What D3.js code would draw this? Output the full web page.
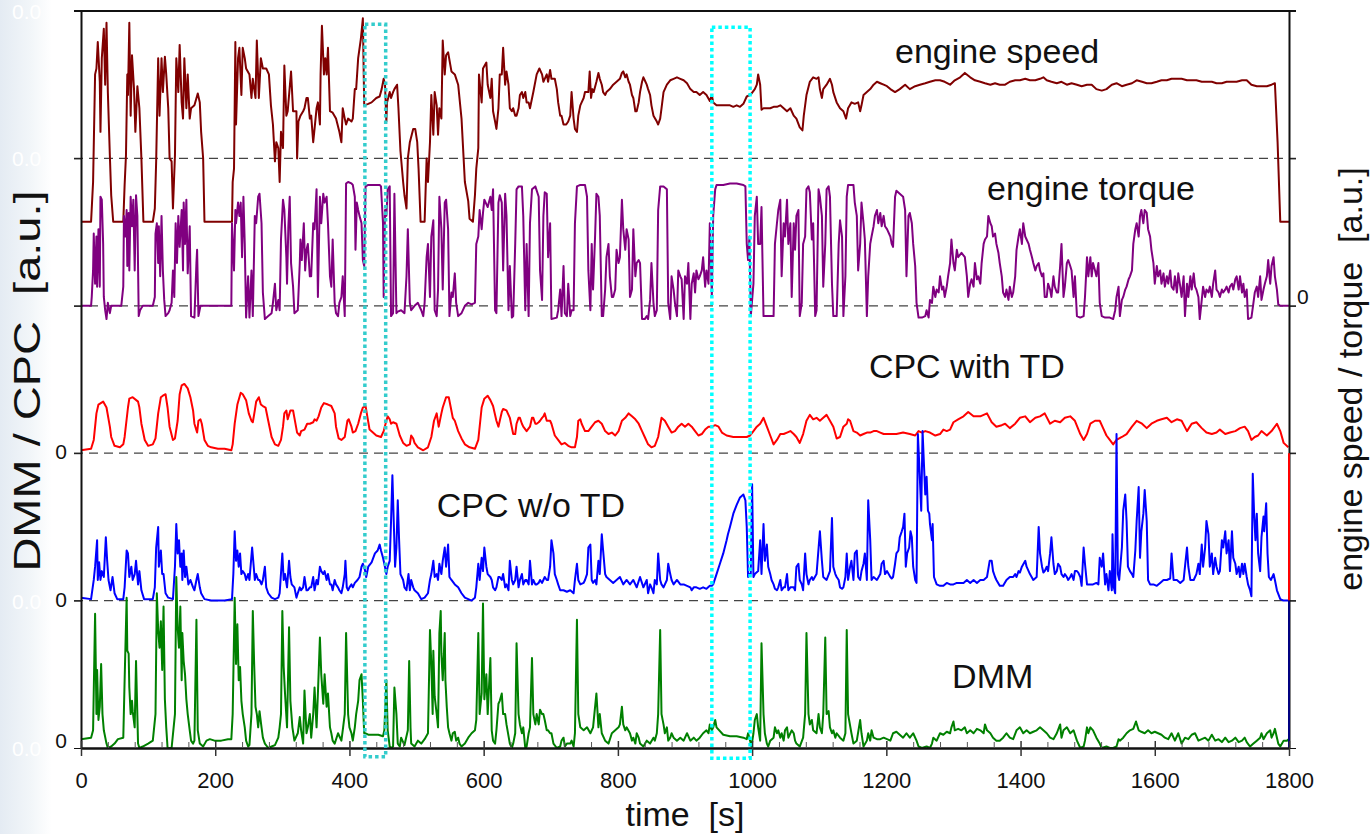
<!DOCTYPE html>
<html>
<head>
<meta charset="utf-8">
<script src="https://cdn.jsdelivr.net/npm/d3@7"></script>
<style>
  body { margin: 0; background: #fff; }
  svg { display: block; font-family: "Liberation Sans", Arial, sans-serif; }
</style>
</head>
<body>
<div id="chart"></div>
<script>
// time axis (s)
const timeTicks = [0, 200, 400, 600, 800, 1000, 1200, 1400, 1600, 1800];

// each series: [time s, value a.u.], 100 a.u. = one band of the plot
const speedData = [[0,0],[15,0],[18,27],[21,100],[23,104],[25,122],[28,95],[29,61],[31,111],[34,131],[36,93],[38,135],[40,88],[43,45],[45,18],[48,0],[63,0],
[65,25],[67,45],[69,100],[70,86],[72,135],[74,72],[76,113],[79,90],[81,61],[84,92],[87,77],[90,43],[93,0],[107,0],
[110,9],[112,41],[115,111],[117,72],[120,111],[122,88],[125,112],[127,100],[130,77],[132,43],[135,41],[137,9],[140,45],[142,111],[145,88],[147,120],[150,81],[152,70],[154,111],[157,77],[159,100],[162,70],[164,77],[169,79],[174,87],[177,81],[179,61],[182,43],[184,0],[225,0],
[226,27],[228,36],[230,122],[231,66],[234,111],[236,118],[239,86],[241,118],[244,111],[246,104],[251,100],[254,84],[256,97],[260,84],[262,123],[265,84],[268,111],[271,104],[276,104],[280,100],[283,79],[286,66],[289,41],[291,54],[294,50],[296,27],[298,61],[301,50],[303,106],[306,72],[308,75],[313,102],[316,75],[321,75],[322,43],[324,68],[327,72],[331,75],[333,77],[336,84],[338,84],[341,70],[343,72],[346,54],[348,63],[351,77],[353,81],[356,66],[357,100],[359,133],[362,100],[364,111],[366,100],[368,118],[371,75],[375,74],[380,70],[385,61],[388,54],[390,77],[393,70],[395,66],[398,70],[403,68],[405,70],[408,90],[410,90],[413,111],[417,124],[420,138],
[422,79],[428,80],[433,81],[440,84],[445,85],[448,90],[451,97],[453,93],[455,68],[456,81],[460,88],[462,84],[465,88],[467,90],[471,93],[473,77],[476,48],[480,27],[482,18],[485,9],[487,43],[490,54],[495,63],[498,63],[501,54],[503,36],[506,0],[512,0],[515,43],[517,27],[520,54],[522,86],[525,59],[527,88],[530,79],[532,59],[534,77],[537,70],[539,123],[542,100],[544,113],[547,115],[552,102],[557,100],[562,93],[567,70],[572,27],[577,14],[579,2],[584,0],[587,18],[589,36],[592,50],[593,100],[597,81],[599,104],[604,108],[606,93],
[610,84],[612,97],[614,75],[617,68],[619,63],[622,77],[624,100],[627,100],[629,118],[632,93],[634,102],[637,93],[639,77],[642,75],[644,77],[647,72],[649,72],[652,77],[654,86],[657,88],[659,84],[662,88],[664,81],[667,81],[669,77],[674,88],[679,100],[683,104],[687,100],[689,95],[691,97],[694,100],[696,95],[699,103],[701,97],[706,97],[709,90],[711,81],[714,72],[716,72],[719,66],[723,66],[726,68],[729,72],[731,88],[734,70],[736,63],[739,61],[741,72],[744,79],[746,81],[749,84],[751,88],[754,88],[756,88],[758,102],[760,84],[762,90],[764,88],[768,95],[771,101],[773,97],[776,93],[778,88],[781,86],[783,88],[788,90],[793,93],[798,95],[803,97],[806,101],[808,102],[811,98],[813,100],[816,95],[818,93],[821,86],[823,84],[826,75],[828,75],[831,81],[833,88],[836,95],[838,98],[840,96],[843,93],[845,90],[848,86],[850,79],[853,72],[858,68],[860,66],[863,70],[865,77],[868,88],[873,93],[878,96],[883,97],[888,98],[893,97],[898,96],[903,94],[908,90],[913,88],[917,88],[922,86],[927,88],[932,86],[937,82],[940,86],[942,81],[947,79],[957,79],[967,79],[972,78],[977,79],[982,78],[987,80],[992,85],[997,86],[999,87],[1004,90],[1007,93],[1009,100],[1012,93],[1014,76],[1017,77],[1022,77],[1027,77],[1032,78],[1037,78],[1042,79],[1047,77],[1052,75],[1057,77],[1062,72],[1066,70],[1071,64],[1075,62],[1077,72],[1079,79],[1081,86],[1086,95],[1091,98],[1096,97],[1099,98],[1101,90],[1104,84],[1106,90],[1111,93],[1116,97],[1119,93],[1121,88],[1126,81],[1131,77],[1136,75],[1140,70],[1143,77],[1148,81],[1153,80],[1158,81],[1161,75],[1163,79],[1166,86],[1171,88],[1176,90],[1181,93],[1186,95],[1191,94],[1196,93],[1201,92],[1206,90],
[1213,88],[1220,90],[1228,93],[1235,90],[1243,92],[1250,93],[1258,94],[1265,95],[1273,96],[1280,96],[1287,95],[1295,93],[1302,96],[1310,98],[1317,101],[1325,98],[1332,96],[1340,95],[1347,94],[1355,93],[1362,94],[1369,93],[1377,93],[1384,95],[1392,96],[1399,96],[1407,97],[1414,96],[1422,96],[1429,97],[1434,98],[1439,96],[1446,95],[1454,94],[1461,95],[1469,93],[1476,94],[1484,93],[1491,92],[1499,93],[1506,93],[1513,90],[1521,89],[1528,90],[1536,93],[1543,94],[1551,92],[1558,93],[1566,94],[1573,96],[1581,95],[1588,94],[1595,94],[1603,95],[1610,96],[1618,96],[1625,97],[1633,97],[1640,97],[1648,96],[1655,96],[1662,96],[1670,95],[1677,95],[1685,95],[1692,94],[1700,94],[1707,95],[1715,95],[1722,95],[1730,96],[1737,96],[1744,93],[1752,92],[1759,92],[1767,92],[1774,93],[1779,94],[1783,54],[1787,0],[1800,0]];

const torqueData = [[0,0],[15,0],[16,6],[18,24],[19,49],[21,15],[23,47],[24,13],[26,52],[28,13],[29,74],[31,72],[33,42],[34,6],[36,-3],[38,-9],[40,2],[43,-5],[45,0],[60,0],[63,13],[64,61],[66,47],[68,65],[69,27],[71,63],[72,24],[74,74],[76,54],[78,72],[80,24],[82,75],[84,61],[86,-7],[88,-3],[92,0],[107,0],[110,6],[111,49],[113,56],[115,29],[116,54],[118,20],[120,61],[122,24],[124,4],[126,-7],[130,-5],[132,-3],[135,2],[137,24],[139,6],[141,56],[143,29],[145,61],[147,40],[150,65],[152,24],[153,70],[155,42],[157,72],[159,22],[162,54],[164,-7],[169,-8],[172,29],[173,38],[175,-7],[178,0],[224,0],[225,56],[228,24],[230,65],[231,56],[234,70],[236,61],[238,70],[240,33],[242,74],[244,42],[246,-8],[249,20],[251,-8],[254,24],[256,-7],[259,61],[261,56],[264,74],[266,76],[269,56],[271,9],[274,-9],[279,-7],[284,-5],[286,2],[289,15],[291,-3],[294,4],[296,-3],[298,45],[301,72],[303,65],[306,33],[307,15],[309,54],[311,74],[313,29],[316,13],[318,-5],[323,-3],[326,29],[327,45],[329,31],[332,56],[334,24],[336,38],[338,42],[341,20],[343,20],[346,56],[348,52],[351,79],[353,6],[356,74],[358,56],[361,76],[363,70],[366,74],[368,56],[371,20],[373,13],[375,45],[378,2],[380,-5],[383,-7],[385,2],[388,6],[390,20],[393,-7],[395,83],[398,84],[403,83],[405,82],[408,74],[409,38],[411,70],[413,65],[415,61],[418,56],[420,31],[422,27],[424,81],[428,82],[433,82],[438,82],[445,82],[447,81],[450,56],[451,6],[453,65],[455,61],[457,79],[460,81],[462,-7],[465,-5],[467,76],[470,-5],[472,-4],[477,-3],[482,-5],[485,20],[487,52],[490,2],[492,-3],[497,0],[502,2],[507,-3],[510,-7],[512,2],[515,33],[517,42],[520,6],[522,47],[525,58],[527,-3],[530,-7],[532,11],[534,74],[537,52],[539,11],[542,70],[544,72],[547,52],[549,-7],[552,9],[554,6],[557,22],[559,2],[562,-7],[567,-5],[572,0],[577,2],[582,1],[587,2],[589,42],[592,47],[594,65],[597,52],[599,63],[601,72],[606,67],
[610,74],[612,65],[614,79],[617,-3],[619,-5],[622,70],[624,75],[627,70],[629,24],[632,76],[634,61],[637,-3],[639,27],[642,-8],[644,-7],[647,42],[649,79],[652,81],[657,81],[659,61],[662,-3],[664,42],[667,-7],[669,56],[672,79],[677,81],[682,74],[684,24],[687,4],[689,61],[691,77],[694,76],[696,33],[699,56],[701,-9],[709,-8],[711,-3],[714,11],[716,-7],[719,27],[721,-5],[724,-7],[726,15],[729,-7],[731,-3],[734,-3],[736,56],[739,81],[744,82],[751,82],[754,74],[756,24],[759,-3],[761,42],[763,11],[766,47],[768,76],[771,74],[773,61],[776,-7],[778,-7],[781,11],[783,33],[786,42],[788,20],[791,6],[793,6],[796,11],[798,38],[801,29],[803,33],[806,72],[808,52],[811,38],[813,52],[816,45],[818,6],[821,11],[823,52],[826,20],[828,29],[831,31],[833,29],[836,-9],[840,-9],[843,-7],[845,-9],[848,4],[850,29],[853,2],[855,-7],[858,-3],[860,65],[863,81],[868,81],[873,79],[875,2],[878,-9],[880,20],[883,11],[885,2],[888,-7],[890,24],[893,20],[895,18],[898,-9],[900,20],[903,15],[905,29],[908,-9],[910,15],[913,22],[915,9],[917,24],[920,18],[922,20],[925,24],[927,33],[930,13],[932,24],[935,15],[937,56],[940,6],[942,61],[945,79],[947,82],[957,82],[967,83],[977,83],[987,82],[990,81],[992,42],[994,31],[996,47],[998,-7],[1002,15],[1004,61],[1007,74],[1009,42],[1012,42],[1014,67],[1017,-7],[1027,-7],[1032,-7],[1034,42],[1037,56],[1039,65],[1042,72],[1044,20],[1047,56],[1049,47],[1052,72],[1054,42],[1057,56],[1059,6],[1062,56],[1064,38],[1066,61],[1069,65],[1071,-7],[1074,2],[1076,42],[1079,47],[1081,79],[1084,81],[1086,77],[1089,45],[1091,56],[1094,-7],[1096,-3],[1099,79],[1101,74],[1104,61],[1106,13],[1109,42],[1111,79],[1114,81],[1116,74],[1119,15],[1121,-7],[1126,-7],[1129,42],[1131,58],[1134,47],[1136,-7],[1139,20],[1141,74],[1143,82],[1151,82],[1153,70],[1156,61],[1158,24],[1161,42],[1163,70],[1166,56],[1168,45],[1171,-7],[1173,20],[1176,42],[1178,47],[1181,54],[1183,61],[1186,65],[1188,56],[1191,63],[1193,54],[1196,61],[1198,54],[1201,52],[1206,47],
[1208,42],[1210,40],[1213,74],[1215,78],[1220,76],[1225,74],[1228,65],[1230,20],[1233,61],[1235,63],[1238,56],[1240,42],[1243,27],[1245,2],[1248,-8],[1253,-8],[1258,-7],[1260,-3],[1263,-8],[1265,4],[1268,2],[1270,13],[1273,6],[1275,11],[1278,9],[1280,20],[1283,11],[1285,13],[1287,6],[1290,13],[1292,20],[1295,29],[1297,45],[1300,29],[1302,24],[1305,38],[1307,33],[1312,36],[1317,33],[1320,20],[1322,6],[1325,15],[1327,18],[1330,13],[1332,29],[1335,18],[1337,20],[1340,15],[1342,29],[1345,42],[1347,45],[1350,47],[1352,61],[1355,56],[1357,54],[1359,47],[1362,49],[1364,42],[1367,36],[1369,29],[1372,20],[1374,9],[1377,6],[1379,11],[1382,4],[1384,13],[1387,6],[1389,9],[1392,20],[1394,38],[1397,47],[1399,52],[1402,42],[1404,56],[1407,47],[1409,45],[1412,42],[1414,38],[1417,33],[1419,29],[1422,24],[1424,27],[1427,29],[1429,24],[1432,20],[1434,22],[1436,6],[1439,6],[1441,15],[1444,11],[1446,6],[1449,20],[1451,13],[1454,9],[1456,9],[1459,27],[1461,42],[1464,6],[1466,13],[1469,29],[1471,31],[1474,27],[1476,24],[1479,6],[1481,20],[1484,-7],[1489,-8],[1494,-7],[1496,6],[1499,33],[1501,20],[1504,33],[1506,20],[1508,29],[1511,24],[1513,20],[1516,29],[1518,2],[1521,-7],[1526,-8],[1533,-8],[1538,-9],[1541,-3],[1543,6],[1546,13],[1548,-7],[1551,4],[1553,6],[1556,11],[1558,13],[1561,18],[1563,20],[1566,24],[1568,42],[1571,52],[1573,56],[1576,47],[1578,61],[1580,65],[1583,56],[1585,65],[1588,63],[1590,52],[1593,47],[1595,38],[1598,29],[1600,15],[1603,27],[1605,20],[1608,24],[1610,15],[1613,22],[1615,13],[1618,20],[1620,15],[1623,24],[1625,13],[1628,11],[1630,20],[1633,9],[1635,22],[1638,13],[1640,6],[1643,20],[1645,-7],[1648,15],[1650,6],[1653,20],[1655,11],[1658,22],[1660,13],[1662,11],[1665,6],[1667,-9],[1670,4],[1672,13],[1675,6],[1677,11],[1680,9],[1682,13],[1685,6],[1687,15],[1690,24],[1692,11],[1695,9],[1697,6],[1700,11],[1702,9],[1705,11],[1707,13],[1710,9],[1712,13],[1715,15],[1717,11],[1720,18],[1722,20],[1725,11],[1727,20],[1730,9],[1732,15],[1734,6],[1737,11],[1739,-9],[1744,-8],[1747,2],[1749,9],[1752,13],[1754,6],[1757,20],[1759,4],[1762,11],[1764,15],[1767,20],[1769,31],[1772,15],[1774,27],[1777,33],[1779,20],[1782,11],[1784,1],[1787,0],[1800,0]];

const cpcTdData = [[0,2],[15,3],[19,9],[23,27],[26,33],[33,35],[38,31],[43,18],[45,11],[50,5],[58,4],[63,6],[65,11],[70,31],[72,37],[77,38],[85,35],[87,31],[90,20],[95,9],[100,5],[107,6],[111,10],[115,27],[119,38],[122,39],[126,40],[129,31],[132,18],[137,9],[140,10],[144,22],[147,40],[150,46],[154,47],[159,44],[163,38],[167,29],[169,20],[173,14],[175,22],[178,23],[180,20],[184,9],[189,5],[194,4],[204,3],[214,3],[224,2],[226,6],[229,20],[233,33],[238,41],[241,40],[246,36],[250,27],[254,22],[256,21],[259,29],[261,35],[265,38],[268,33],[271,32],[275,31],[279,22],[284,11],[289,6],[294,5],[298,9],[301,18],[303,27],[306,29],[308,23],[312,29],[316,29],[318,24],[322,14],[326,12],[328,15],[333,16],[337,20],[341,20],[346,21],[348,23],[351,22],[354,25],[358,31],[362,34],[368,33],[373,32],[378,27],[380,18],[384,10],[388,9],[393,11],[397,22],[399,23],[403,18],[405,14],[409,15],[413,20],[417,27],[420,31],[424,32],[427,24],[430,16],[435,14],[440,12],[447,11],[451,15],[455,22],[457,25],[460,23],[462,20],[465,21],[470,20],[475,12],[480,7],[485,5],[490,6],[492,12],[495,10],[497,7],[502,4],[510,2],[517,4],[522,11],[526,22],[530,27],[533,18],[537,27],[539,31],[544,38],[548,38],[551,31],[554,24],[557,22],[562,15],[567,10],[572,6],[579,4],[587,3],[592,9],[597,31],[601,37],[606,39],
[610,36],[614,32],[619,22],[622,18],[624,22],[627,28],[629,30],[634,29],[639,24],[644,13],[647,13],[649,20],[652,24],[654,24],[657,20],[659,18],[664,15],[669,18],[672,24],[674,24],[677,20],[679,20],[682,21],[684,22],[687,24],[689,25],[691,27],[694,22],[699,22],[701,20],[706,12],[711,9],[716,6],[721,7],[726,5],[731,4],[736,4],[739,11],[741,22],[744,23],[746,20],[751,15],[756,15],[761,18],[766,21],[771,22],[776,20],[781,15],[786,13],[791,14],[796,12],[801,15],[806,22],[811,24],[816,27],[821,25],[826,23],[831,20],[836,15],[840,11],[845,6],[850,4],[855,5],[860,11],[865,24],[870,22],[875,18],[880,14],[885,15],[890,18],[895,20],[900,18],[905,20],[910,18],[915,15],[920,12],[925,13],[930,16],[935,18],[940,18],[945,19],[950,18],[955,14],[962,12],[972,11],[982,11],[992,11],[997,12],[1002,15],[1007,18],[1012,20],[1017,24],[1022,18],[1027,12],[1032,6],[1037,9],[1042,13],[1047,13],[1052,14],[1057,15],[1062,13],[1066,11],[1071,7],[1076,13],[1081,22],[1086,26],[1091,23],[1096,24],[1101,22],[1106,24],[1111,26],[1116,22],[1121,18],[1126,10],[1131,11],[1136,18],[1141,20],[1143,23],[1146,22],[1151,15],[1156,14],[1161,12],[1166,13],[1171,14],[1176,14],[1181,15],[1186,15],[1191,14],[1196,13],[1206,13],
[1215,13],[1225,14],[1235,13],[1243,12],[1248,15],[1253,14],[1258,15],[1265,14],[1273,12],[1280,13],[1285,16],[1290,15],[1295,16],[1300,21],[1307,23],[1315,25],[1322,28],[1330,25],[1340,25],[1350,27],[1357,21],[1364,18],[1372,19],[1377,20],[1384,17],[1392,20],[1399,24],[1407,25],[1414,21],[1422,24],[1429,25],[1436,27],[1444,20],[1451,22],[1459,21],[1466,24],[1474,25],[1481,22],[1489,13],[1494,9],[1499,13],[1504,20],[1511,22],[1518,22],[1523,17],[1528,12],[1533,9],[1538,6],[1543,9],[1551,11],[1558,13],[1566,18],[1573,22],[1581,20],[1588,17],[1595,20],[1603,22],[1610,23],[1618,24],[1625,21],[1633,23],[1640,22],[1648,15],[1655,20],[1662,21],[1670,17],[1677,14],[1685,13],[1692,14],[1697,16],[1705,13],[1712,14],[1720,15],[1727,17],[1734,18],[1739,15],[1744,9],[1749,11],[1754,12],[1759,15],[1767,12],[1774,15],[1782,20],[1787,15],[1792,7],[1799,4]];

const cpcNoTdData = [[0,2],[15,1],[19,14],[21,23],[24,41],[25,14],[27,26],[29,14],[31,20],[34,16],[37,43],[39,27],[41,14],[44,7],[47,16],[50,5],[54,1],[63,1],[65,9],[68,34],[70,32],[72,16],[75,23],[77,14],[80,18],[82,27],[85,11],[87,20],[90,7],[94,1],[107,1],[110,9],[112,36],[115,50],[116,23],[119,34],[121,18],[123,18],[126,5],[130,2],[137,1],[140,23],[142,52],[144,32],[146,41],[148,23],[150,32],[151,14],[153,34],[155,16],[157,23],[160,11],[163,14],[167,9],[169,7],[172,14],[174,18],[177,9],[179,5],[184,1],[194,0],[214,0],[225,1],[227,18],[229,47],[231,27],[233,34],[235,23],[237,32],[239,18],[241,20],[244,18],[246,14],[249,18],[251,14],[255,36],[257,25],[259,14],[261,18],[264,14],[266,14],[269,11],[271,14],[274,23],[276,9],[279,5],[284,2],[289,1],[294,2],[296,5],[300,32],[302,14],[304,18],[307,9],[310,27],[312,16],[314,11],[318,9],[321,2],[323,5],[326,9],[328,7],[331,9],[333,16],[336,7],[338,7],[341,9],[343,9],[346,16],[348,7],[351,14],[353,11],[356,23],[358,20],[361,18],[363,20],[366,14],[368,18],[371,11],[373,11],[375,7],[378,14],[380,11],[383,9],[385,7],[388,5],[390,9],[393,18],[394,27],[396,9],[398,7],[400,9],[403,11],[405,9],[408,12],[412,14],[415,16],[418,23],[420,25],[423,21],[425,16],[428,23],[433,26],[438,32],[442,34],[445,38],[447,34],[450,29],[452,25],[455,18],[457,23],[460,27],[462,54],[464,85],[466,54],[468,23],[470,36],[472,68],[474,41],[476,18],[480,14],[482,9],[485,7],[486,11],[488,18],[490,7],[492,14],[495,9],[497,7],[502,5],[507,1],[512,2],[517,5],[520,14],[522,18],[525,27],[527,16],[530,18],[532,14],[534,25],[537,18],[539,27],[542,36],[544,23],[547,38],[549,16],[552,14],[557,11],[562,9],[567,5],[572,2],[577,1],[582,0],[587,2],[589,9],[592,25],[594,14],[597,29],[599,20],[601,36],[604,23],[606,18],
[610,16],[612,14],[614,9],[617,7],[619,9],[622,16],[624,16],[627,14],[629,18],[632,9],[634,11],[637,7],[639,27],[642,14],[644,11],[647,14],[649,23],[652,9],[654,14],[657,18],[659,11],[662,14],[664,14],[667,11],[669,27],[672,11],[674,14],[677,11],[679,11],[682,12],[684,14],[687,12],[689,14],[691,16],[694,14],[696,14],[699,23],[701,41],[704,32],[706,18],[709,14],[711,11],[714,7],[719,7],[724,6],[729,7],[734,5],[736,14],[739,25],[741,14],[744,11],[749,12],[751,14],[754,18],[756,36],[759,38],[761,14],[763,12],[766,14],[768,11],[771,27],[773,18],[776,45],[778,34],[781,18],[783,16],[788,14],[793,12],[798,14],[803,16],[808,11],[813,14],[818,11],[823,14],[828,9],[833,16],[838,9],[843,14],[845,5],[848,11],[850,9],[853,5],[855,14],[858,11],[860,32],[863,14],[865,11],[868,9],[873,14],[875,25],[878,18],[880,14],[883,11],[888,14],[893,11],[898,11],[903,10],[908,9],[910,7],[913,9],[917,9],[922,8],[927,9],[932,8],[937,10],[940,10],[942,11],[947,18],[952,25],[957,32],[962,41],[964,45],[967,50],[972,59],[977,65],[982,70],[987,72],[990,68],[992,50],[994,16],[996,18],[998,18],[1000,79],[1002,16],[1004,18],[1009,20],[1012,41],[1014,18],[1017,52],[1019,27],[1022,38],[1024,23],[1027,18],[1029,14],[1032,11],[1034,8],[1037,7],[1039,9],[1042,14],[1044,7],[1047,9],[1049,9],[1052,18],[1054,7],[1057,9],[1062,9],[1064,7],[1066,23],[1069,25],[1071,14],[1074,11],[1076,7],[1079,32],[1081,18],[1084,11],[1086,14],[1089,16],[1091,14],[1096,18],[1101,47],[1104,27],[1106,16],[1111,14],[1116,20],[1119,56],[1121,23],[1124,18],[1126,16],[1129,14],[1131,9],[1134,8],[1136,9],[1139,16],[1141,32],[1143,14],[1146,23],[1148,27],[1151,14],[1153,32],[1156,34],[1158,16],[1161,14],[1163,20],[1166,25],[1168,32],[1171,14],[1173,68],[1176,41],[1178,14],[1181,16],[1186,14],[1191,18],[1193,25],[1196,27],[1198,18],[1201,20],[1206,16],
[1208,15],[1210,16],[1213,25],[1215,32],[1218,34],[1220,43],[1223,47],[1225,50],[1227,59],[1229,23],[1231,32],[1234,36],[1236,47],[1238,43],[1240,23],[1243,14],[1245,12],[1247,113],[1249,93],[1252,61],[1254,115],[1256,93],[1258,72],[1260,84],[1262,61],[1264,59],[1265,52],[1268,41],[1269,52],[1271,16],[1275,11],[1280,10],[1285,10],[1290,12],[1295,11],[1300,11],[1305,12],[1310,12],[1315,12],[1320,14],[1325,12],[1330,14],[1335,12],[1340,14],[1345,14],[1350,16],[1354,27],[1357,27],[1359,20],[1362,16],[1364,14],[1369,10],[1374,10],[1379,14],[1384,16],[1389,16],[1392,18],[1394,16],[1397,20],[1399,19],[1402,23],[1407,27],[1409,23],[1414,18],[1419,14],[1424,16],[1427,50],[1429,32],[1432,23],[1434,19],[1436,20],[1439,23],[1441,20],[1444,32],[1446,43],[1449,25],[1451,18],[1454,20],[1456,25],[1459,23],[1461,18],[1464,16],[1466,18],[1469,16],[1471,14],[1474,16],[1476,18],[1479,14],[1481,20],[1484,20],[1486,19],[1489,16],[1491,10],[1494,36],[1496,25],[1499,11],[1504,11],[1508,11],[1513,12],[1516,11],[1518,29],[1521,23],[1523,32],[1526,11],[1528,18],[1531,7],[1533,20],[1536,7],[1537,45],[1539,9],[1541,5],[1543,113],[1545,18],[1547,14],[1551,36],[1553,61],[1556,72],[1558,54],[1560,23],[1563,20],[1566,18],[1568,16],[1571,34],[1573,54],[1576,77],[1578,29],[1580,47],[1583,59],[1585,75],[1588,54],[1590,14],[1593,11],[1598,11],[1603,10],[1608,12],[1613,14],[1618,14],[1623,15],[1625,32],[1628,14],[1633,14],[1638,12],[1643,14],[1645,23],[1648,36],[1650,23],[1653,14],[1658,14],[1660,16],[1662,18],[1665,25],[1667,18],[1670,38],[1672,23],[1675,36],[1677,54],[1680,45],[1682,23],[1685,32],[1687,18],[1690,29],[1692,23],[1695,18],[1697,20],[1700,41],[1702,36],[1705,47],[1707,32],[1710,41],[1712,20],[1715,47],[1717,29],[1720,25],[1722,18],[1725,23],[1727,16],[1730,25],[1732,18],[1734,25],[1737,16],[1739,11],[1742,7],[1744,3],[1746,86],[1748,59],[1750,41],[1752,59],[1754,32],[1757,20],[1759,43],[1762,57],[1763,47],[1766,66],[1768,32],[1770,16],[1773,14],[1777,18],[1779,14],[1782,7],[1787,1],[1792,0],[1800,0]];

const dmmData = [[0,6],[15,7],[18,12],[21,91],[23,23],[24,53],[26,19],[28,28],[30,57],[32,23],[34,12],[38,3],[40,0],[45,1],[50,3],[55,6],[63,7],[65,46],[68,102],[69,66],[71,64],[72,41],[74,23],[76,32],[77,25],[80,14],[82,59],[85,3],[87,0],[92,1],[100,3],[107,5],[111,23],[113,105],[115,80],[117,68],[119,86],[121,53],[123,96],[125,33],[127,14],[129,0],[135,0],[140,23],[142,116],[144,82],[146,68],[148,96],[150,46],[151,78],[153,59],[155,50],[157,33],[159,23],[162,12],[164,5],[167,3],[169,5],[172,87],[174,12],[177,3],[182,1],[187,5],[192,6],[199,5],[209,5],[219,6],[224,6],[226,23],[229,102],[231,57],[233,84],[235,46],[237,55],[239,32],[241,23],[244,14],[246,5],[249,1],[251,2],[254,23],[256,93],[258,57],[260,28],[262,23],[264,14],[266,25],[269,14],[271,7],[274,3],[279,0],[284,1],[289,2],[294,7],[296,14],[298,23],[300,93],[302,55],[304,37],[307,14],[310,82],[312,32],[315,14],[318,5],[323,10],[326,21],[328,12],[331,3],[333,39],[336,10],[338,14],[341,23],[343,7],[346,23],[348,41],[351,14],[353,37],[356,75],[358,50],[361,30],[363,50],[366,28],[368,37],[371,14],[373,10],[375,5],[378,3],[383,10],[388,5],[390,12],[393,23],[395,78],[398,23],[400,14],[403,10],[405,5],[408,14],[410,23],[413,32],[415,46],[418,50],[420,32],[422,10],[424,10],[428,9],[433,9],[443,9],[450,8],[452,12],[455,46],[457,12],[460,1],[462,0],[465,1],[467,41],[470,23],[472,3],[475,1],[477,7],[482,2],[487,12],[489,59],[491,14],[492,3],[497,1],[502,5],[507,3],[512,6],[517,10],[520,80],[522,57],[524,23],[525,66],[527,35],[530,23],[532,14],[534,78],[536,93],[537,64],[539,46],[542,78],[543,46],[545,28],[547,14],[549,10],[552,5],[554,10],[557,11],[559,5],[562,7],[564,3],[567,1],[572,3],[577,7],[582,10],[587,12],[589,19],[592,78],[594,23],[597,37],[599,98],[601,33],[604,50],[606,23],
[610,61],[612,12],[614,5],[617,3],[619,12],[622,30],[624,32],[627,37],[629,23],[632,23],[634,16],[639,3],[642,0],[644,3],[647,10],[649,71],[652,23],[654,16],[657,10],[659,14],[662,0],[664,1],[667,10],[669,14],[672,61],[674,23],[677,16],[679,23],[682,16],[684,26],[687,23],[689,23],[691,19],[694,12],[696,12],[699,10],[701,10],[704,3],[709,0],[714,1],[716,5],[719,7],[721,1],[724,3],[729,3],[731,5],[734,1],[736,10],[739,87],[741,23],[744,14],[749,12],[754,14],[759,10],[763,14],[768,37],[771,14],[773,23],[776,10],[781,5],[786,3],[791,10],[796,12],[801,14],[803,16],[806,28],[808,16],[811,12],[813,14],[818,10],[821,5],[823,7],[826,3],[828,10],[831,7],[833,3],[838,1],[843,5],[848,3],[853,7],[855,5],[858,10],[860,23],[863,80],[865,23],[868,16],[870,10],[873,14],[875,5],[878,7],[880,10],[883,7],[888,5],[893,7],[898,5],[903,10],[908,5],[913,7],[917,5],[922,7],[927,10],[932,12],[935,10],[937,16],[940,12],[942,14],[945,19],[947,14],[957,9],[967,8],[977,8],[987,7],[992,6],[994,10],[997,5],[999,1],[1002,10],[1004,19],[1007,23],[1009,14],[1012,5],[1014,71],[1017,23],[1019,10],[1022,3],[1024,1],[1027,5],[1032,7],[1034,14],[1037,10],[1039,12],[1042,7],[1044,10],[1047,5],[1049,12],[1052,14],[1054,7],[1057,10],[1059,12],[1062,10],[1064,5],[1066,3],[1071,1],[1076,7],[1079,23],[1081,78],[1084,23],[1086,16],[1089,19],[1091,12],[1096,10],[1099,23],[1101,14],[1104,10],[1106,23],[1109,75],[1111,23],[1114,25],[1116,14],[1119,10],[1121,12],[1124,7],[1126,10],[1131,7],[1136,5],[1139,10],[1141,80],[1143,23],[1148,10],[1151,3],[1156,5],[1161,19],[1163,10],[1166,1],[1171,5],[1173,10],[1176,5],[1178,12],[1181,7],[1186,6],[1191,6],[1196,7],[1201,6],[1206,5],
[1210,10],[1215,11],[1220,9],[1225,7],[1230,10],[1235,7],[1240,10],[1245,5],[1248,1],[1253,0],[1260,1],[1265,0],[1268,3],[1270,7],[1275,5],[1280,10],[1285,9],[1290,11],[1295,10],[1297,14],[1300,18],[1302,12],[1307,13],[1312,12],[1317,14],[1320,10],[1325,12],[1330,10],[1335,13],[1340,12],[1345,10],[1347,16],[1350,12],[1355,10],[1359,7],[1364,5],[1369,5],[1374,7],[1379,10],[1384,7],[1389,6],[1394,12],[1399,14],[1404,10],[1409,12],[1414,10],[1419,11],[1424,12],[1429,14],[1434,12],[1439,10],[1444,7],[1449,6],[1454,10],[1459,16],[1461,7],[1464,12],[1469,14],[1474,10],[1479,12],[1484,5],[1489,0],[1494,1],[1496,5],[1499,14],[1501,10],[1504,14],[1508,12],[1513,7],[1518,3],[1521,0],[1528,1],[1533,0],[1538,0],[1543,1],[1546,6],[1548,5],[1553,7],[1558,10],[1563,12],[1568,13],[1572,18],[1576,12],[1580,11],[1585,10],[1590,12],[1595,10],[1600,11],[1605,10],[1610,9],[1615,7],[1620,6],[1625,10],[1630,5],[1635,10],[1640,3],[1645,7],[1650,6],[1655,9],[1660,10],[1665,5],[1670,6],[1675,7],[1680,5],[1685,9],[1690,5],[1695,6],[1700,4],[1705,7],[1710,4],[1715,5],[1720,7],[1725,4],[1730,5],[1734,7],[1737,4],[1742,1],[1747,3],[1752,5],[1757,7],[1759,10],[1762,6],[1767,10],[1772,12],[1774,7],[1777,10],[1779,13],[1782,7],[1784,3],[1787,1],[1792,5],[1797,5],[1800,6]];

// series names, zero level of each trace on the shared a.u. scale
const seriesNames = ["engine speed", "engine torque", "CPC with TD", "CPC w/o TD", "DMM"];
const seriesZero = [357, 300, 200, 100, 0];
const seriesColors = ["#800000", "#800080", "#ff0000", "#0000ff", "#008000"];
// label anchor of each series: [time s, a.u.]
const labelAnchor = [[1213, 465], [1350, 372], [1174, 251], [530, 157], [1298, 41]];

// highlighted windows: time span, and a.u. extent
const windowSpans = [[423, 454], [940, 997]];
const windowLevels = [[-6, 491], [-7, 489]];
const windowColors = ["#33cccc", "#00ffff"];

const W = 1370, H = 834;
const x = d3.scaleLinear().domain([0, 1800]).range([81, 1289]);
const y = d3.scaleLinear().domain([0, 500]).range([748, 11]);

const svg = d3.select("#chart").append("svg").attr("width", W).attr("height", H);

// faint slide edge on the left
const grad = svg.append("defs").append("linearGradient").attr("id", "edge");
grad.append("stop").attr("offset", 0).attr("stop-color", "#e4ebf3");
grad.append("stop").attr("offset", 0.6).attr("stop-color", "#f2f6f9");
grad.append("stop").attr("offset", 1).attr("stop-color", "#ffffff");
svg.append("rect").attr("width", 52).attr("height", H).attr("fill", "url(#edge)");

// ghost labels of the original sheet (white)
svg.selectAll(".ghost").data([500, 400, 100, 0]).join("text")
  .attr("x", 12).attr("y", d => y(d) + 8)
  .attr("font-size", 21).attr("fill", "#ffffff").text("0.0");

// dashed band separators
svg.append("g").selectAll("line").data([100, 200, 300, 400]).join("line")
  .attr("x1", 74).attr("x2", 1296)
  .attr("y1", d => y(d)).attr("y2", d => y(d))
  .attr("stroke", "#444").attr("stroke-width", 1.2).attr("stroke-dasharray", "9,6");

// traces
const line = d3.line().x(d => x(d[0]));
const traces = [speedData, torqueData, cpcTdData, cpcNoTdData, dmmData];
traces.forEach((data, i) => {
  svg.append("path")
    .datum(data)
    .attr("fill", "none")
    .attr("stroke", seriesColors[i])
    .attr("stroke-width", 2)
    .attr("stroke-linejoin", "round")
    .attr("d", line.y(d => y(seriesZero[i] + d[1])));
});

// frame: top border and side axes
svg.append("line").attr("x1", 74).attr("x2", 1296).attr("y1", y(500)).attr("y2", y(500))
  .attr("stroke", "#111").attr("stroke-width", 2);

const yLeft = svg.append("g").attr("transform", `translate(${x(0)},0)`)
  .call(d3.axisLeft(y).tickValues([0, 100, 200, 300, 400, 500]).tickSize(7).tickSizeOuter(0).tickFormat(""));
yLeft.select(".domain").attr("stroke", "#111").attr("stroke-width", 2);
yLeft.selectAll(".tick line").attr("stroke", "#111");

const yRight = svg.append("g").attr("transform", `translate(${x(1800)},0)`)
  .call(d3.axisRight(y).tickValues([0, 100, 200, 300, 400, 500]).tickSize(7).tickSizeOuter(0).tickFormat(""));
yRight.select(".domain").attr("stroke", "#111").attr("stroke-width", 2);
yRight.selectAll(".tick line").attr("stroke", "#111");

// trace ends drawn over the right axis
svg.append("line").attr("x1", x(1800)).attr("x2", x(1800)).attr("y1", y(200)).attr("y2", y(100))
  .attr("stroke", "#ff0000").attr("stroke-width", 2);
svg.append("line").attr("x1", x(1800)).attr("x2", x(1800)).attr("y1", y(100)).attr("y2", y(0))
  .attr("stroke", "#000080").attr("stroke-width", 2);

// y tick labels
svg.selectAll(".ylab").data([200, 100, 0]).join("text")
  .attr("x", 67).attr("y", d => Math.min(y(d) + 6, y(0)))
  .attr("text-anchor", "end").attr("font-size", 21).attr("fill", "#111").text("0");
svg.append("text").attr("x", 1297).attr("y", y(300) - 2)
  .attr("font-size", 21).attr("fill", "#111").text("0");

// time axis
const xAxis = svg.append("g").attr("transform", `translate(0,${y(0)})`)
  .call(d3.axisBottom(x).tickValues(timeTicks).tickFormat(d3.format("d"))
    .tickSize(8).tickSizeOuter(0).tickPadding(16));
xAxis.select(".domain").attr("stroke", "#111").attr("stroke-width", 2.5);
xAxis.selectAll(".tick line").attr("y1", -7).attr("stroke", "#333").attr("stroke-width", 1.5);
xAxis.selectAll(".tick text").attr("font-size", 22).attr("fill", "#111")
  .attr("font-family", "Liberation Sans, Arial, sans-serif");

const minorTicks = d3.range(0, 1801, 40).filter(d => d % 200 !== 0);
const xMinor = svg.append("g").attr("transform", `translate(0,${y(0)})`)
  .call(d3.axisBottom(x).tickValues(minorTicks).tickSize(-6).tickFormat(""));
xMinor.select(".domain").remove();
xMinor.selectAll(".tick line").attr("stroke", "#555");

// highlight windows
svg.append("g").selectAll("rect").data(windowSpans).join("rect")
  .attr("x", d => x(d[0])).attr("width", d => x(d[1]) - x(d[0]))
  .attr("y", (d, i) => y(windowLevels[i][1]))
  .attr("height", (d, i) => y(windowLevels[i][0]) - y(windowLevels[i][1]))
  .attr("fill", "none")
  .attr("stroke", (d, i) => windowColors[i])
  .attr("stroke-width", 3.5).attr("stroke-dasharray", "3.5,3");

// series labels
svg.selectAll(".slab").data(seriesNames).join("text")
  .attr("x", (d, i) => x(labelAnchor[i][0]))
  .attr("y", (d, i) => y(labelAnchor[i][1]))
  .attr("font-size", 34).attr("fill", "#111").text(d => d);

// axis titles
svg.append("text").attr("x", 685).attr("y", 826).attr("text-anchor", "middle")
  .attr("font-size", 34).attr("fill", "#111").style("white-space", "pre").text("time  [s]");
svg.append("text").attr("transform", "translate(40,381) rotate(-90) scale(1.27,1)").attr("text-anchor", "middle")
  .attr("font-size", 37).attr("fill", "#111").style("white-space", "pre").text("DMM / CPC  [a.u.]");
svg.append("text").attr("transform", "translate(1362,379) rotate(-90)").attr("text-anchor", "middle")
  .attr("font-size", 34).attr("fill", "#111").style("white-space", "pre").text("engine speed / torque  [a.u.]");
</script>
</body>
</html>
